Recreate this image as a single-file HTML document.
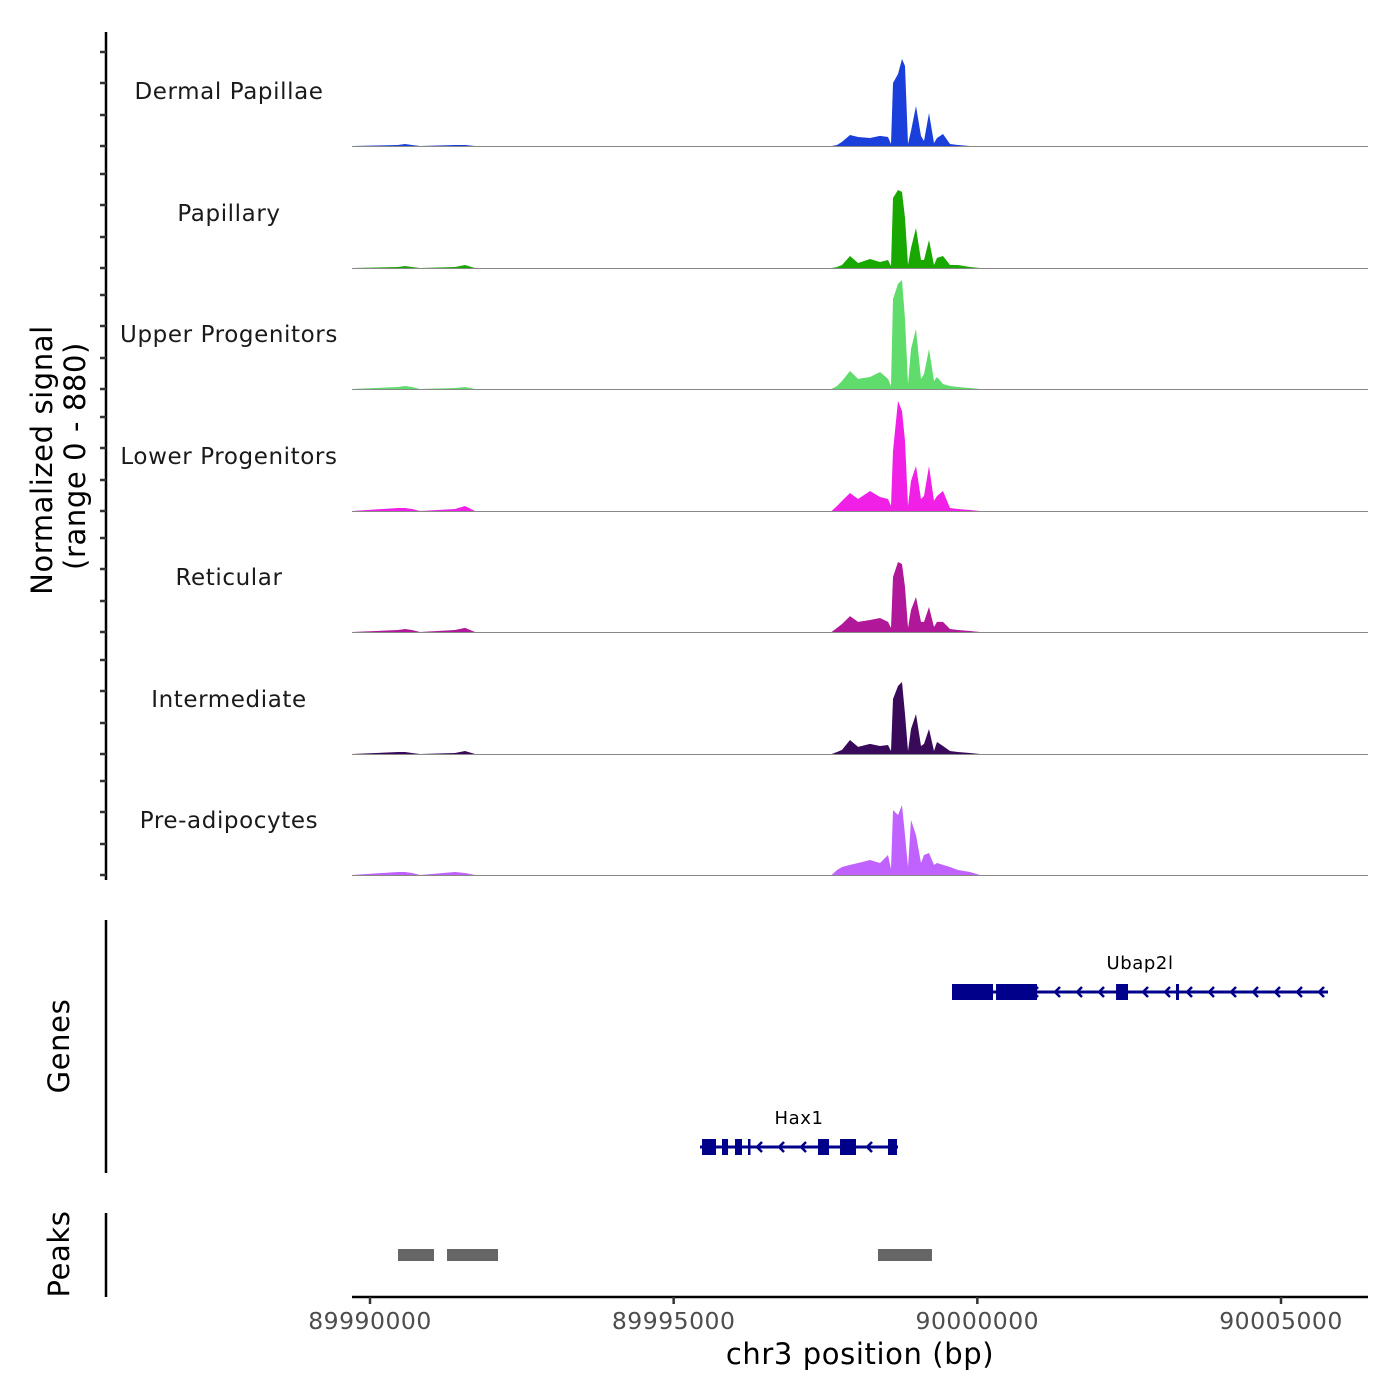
<!DOCTYPE html>
<html><head><meta charset="utf-8"><style>
body{margin:0;background:#fff}
svg{display:block;font-family:"DejaVu Sans","Liberation Sans",sans-serif}
</style></head><body>
<svg id="chart" width="1400" height="1400" viewBox="0 0 1400 1400">
<g id="tracks"></g>
<g id="axes"></g>
<g id="genes"></g>
<g id="peaks"></g>
</svg>
<script>
const trackNames=["Dermal Papillae","Papillary","Upper Progenitors","Lower Progenitors","Reticular","Intermediate","Pre-adipocytes"];
const trackColors=["#1a3fdb","#19a800","#5fdc6c","#f020e6","#b01899","#3a0a5a","#c062ff"];
const positions=[89989704,89990461,89990576,89990692,89990823,89991400,89991564,89991729,89997600,89997690,89997772,89997904,89998036,89998233,89998398,89998529,89998579,89998612,89998694,89998760,89998809,89998859,89998908,89998990,89999073,89999122,89999204,89999287,89999336,89999435,89999550,89999682,89999880,90000044,90006433];
const sigDermal=[0,8,15,8,0,8,8,0,0,8,31,84,69,61,77,69,15,482,551,666,612,15,115,306,77,38,252,23,61,92,15,8,0,0,0];
const sigPapillary=[0,8,15,8,0,8,23,0,0,8,23,92,38,69,46,61,15,536,597,582,383,23,153,306,61,61,214,23,77,92,23,23,8,0,0];
const sigUpper=[0,15,23,15,0,8,15,0,0,23,61,138,77,92,130,77,23,689,804,834,536,38,306,459,77,115,306,61,92,38,23,15,8,0,0];
const sigLower=[0,23,23,15,0,15,38,0,0,38,77,138,92,153,107,92,38,459,842,765,536,38,230,344,92,115,344,77,115,153,23,15,8,0,0];
const sigReticular=[0,15,23,15,0,15,31,0,0,31,61,122,77,92,107,77,31,421,536,520,344,31,168,268,77,77,191,38,77,77,23,15,8,0,0];
const sigInter=[0,15,15,8,0,8,23,0,0,15,31,107,54,77,61,69,23,421,520,551,306,23,191,306,61,77,191,23,92,61,23,15,8,0,0];
const sigPreadipo=[0,23,23,15,0,23,15,0,0,38,61,77,92,115,92,153,46,497,459,536,306,61,421,306,92,153,168,77,92,77,61,38,23,0,0];
const signals=[sigDermal,sigPapillary,sigUpper,sigLower,sigReticular,sigInter,sigPreadipo];
const xTicks=[89990000,89995000,90000000,90005000];
const geneNames=["Ubap2l","Hax1"];
const geneStart=[89999583,89995434];
const geneEnd=[90005774,89998694];
const ubapExons=[[89999583,90000258],[90000308,90000983],[90002284,90002481],[90003271,90003321]];
const haxExons=[[89995467,89995697],[89995796,89995895],[89996010,89996125],[89996224,89996250],[89997377,89997558],[89997739,89998002],[89998529,89998677]];
const peakStart=[89990461,89991268,89998364];
const peakEnd=[89991054,89992108,89999253];

const NS="http://www.w3.org/2000/svg";
function mk(tag,attrs,parent){const e=document.createElementNS(NS,tag);for(const k in attrs)e.setAttribute(k,attrs[k]);parent.appendChild(e);return e;}
const xs=bp=>370+(bp-89990000)*(911/15000);
const baselines=[146,268,389,511,632,754,875];
const ys=(v,i)=>baselines[i]-v*(115/880);

const tg=document.getElementById('tracks');
signals.forEach((s,i)=>{
  let d=`M${xs(positions[0])},${baselines[i]}`;
  s.forEach((v,j)=>{d+=` L${xs(positions[j]).toFixed(1)},${ys(v,i).toFixed(1)}`;});
  d+=` L${xs(positions[positions.length-1])},${baselines[i]} Z`;
  const p=mk('path',{d:d,fill:trackColors[i]},tg);
  
  
  const l=mk('line',{x1:352,x2:1368,y1:baselines[i]+0.5,y2:baselines[i]+0.5,stroke:'#888','stroke-width':1},tg);
  
  
  const t=mk('text',{x:229,y:baselines[i]-47,'text-anchor':'middle','font-size':23,fill:'#1a1a1a','letter-spacing':'0.6'},tg);
  t.textContent=trackNames[i];
  
  
});

const ag=document.getElementById('axes');
mk('line',{x1:106,x2:106,y1:32,y2:880,stroke:'#000','stroke-width':2.5},ag);
baselines.forEach(b=>{[-94,-63,-31,0].forEach(o=>{mk('line',{x1:100,x2:106,y1:b+o,y2:b+o,stroke:'#333','stroke-width':2.5},ag);});});
mk('line',{x1:106,x2:106,y1:920,y2:1173,stroke:'#000','stroke-width':2.5},ag);
mk('line',{x1:106,x2:106,y1:1213,y2:1297,stroke:'#000','stroke-width':2.5},ag);
mk('line',{x1:352,x2:1368,y1:1297,y2:1297,stroke:'#000','stroke-width':2.5},ag);
let yt=mk('text',{transform:'translate(52,460) rotate(-90)','text-anchor':'middle','font-size':29,fill:'#000','letter-spacing':'0.6'},ag);
yt.textContent='Normalized signal';


let yt2=mk('text',{transform:'translate(85,456) rotate(-90)','text-anchor':'middle','font-size':29,fill:'#000','letter-spacing':'0.6'},ag);
yt2.textContent='(range 0 - 880)';


let gt=mk('text',{transform:'translate(69,1046) rotate(-90)','text-anchor':'middle','font-size':29,fill:'#000','letter-spacing':'0.6'},ag);
gt.textContent='Genes';


let pt=mk('text',{transform:'translate(69,1254) rotate(-90)','text-anchor':'middle','font-size':29,fill:'#000','letter-spacing':'0.6'},ag);
pt.textContent='Peaks';


xTicks.forEach(v=>{
  mk('line',{x1:xs(v),x2:xs(v),y1:1297,y2:1304,stroke:'#333','stroke-width':2.5},ag);
  const t=mk('text',{x:xs(v),y:1329,'text-anchor':'middle','font-size':23.5,fill:'#4d4d4d','letter-spacing':'0.5'},ag);
  t.textContent=v;
  
  
});
let xt=mk('text',{x:860,y:1364,'text-anchor':'middle','font-size':29,fill:'#000','letter-spacing':'0.6'},ag);
xt.textContent='chr3 position (bp)';



const gg=document.getElementById('genes');
const gy=[992,1147];
const exonSets=[ubapExons,haxExons];
const C='#00008b';
[0,1].forEach(g=>{
  const x1=xs(geneStart[g]),x2=xs(geneEnd[g]),y=gy[g];
  mk('line',{x1:x1,x2:x2,y1:y,y2:y,stroke:C,'stroke-width':3},gg);
  for(let ax=x2-4;ax>x1+50;ax-=22){mk('polyline',{points:`${ax},${y-5} ${ax-5},${y} ${ax},${y+5}`,fill:'none',stroke:C,'stroke-width':2.5},gg);}
  exonSets[g].forEach(e=>{
    const r=mk('rect',{x:xs(e[0]),y:y-8,width:Math.max(2.5,xs(e[1])-xs(e[0])),height:16,fill:C},gg);
    
    
  });
  const t=mk('text',{x:(x1+x2)/2,y:y-23,'text-anchor':'middle','font-size':18,fill:'#000','letter-spacing':'0.6'},gg);
  t.textContent=geneNames[g];
  
  
});

const pg=document.getElementById('peaks');
peakStart.forEach((s,i)=>{
  const r=mk('rect',{x:xs(s),y:1249,width:xs(peakEnd[i])-xs(s),height:12,fill:'#666'},pg);
  
  
});
</script>
</body></html>
